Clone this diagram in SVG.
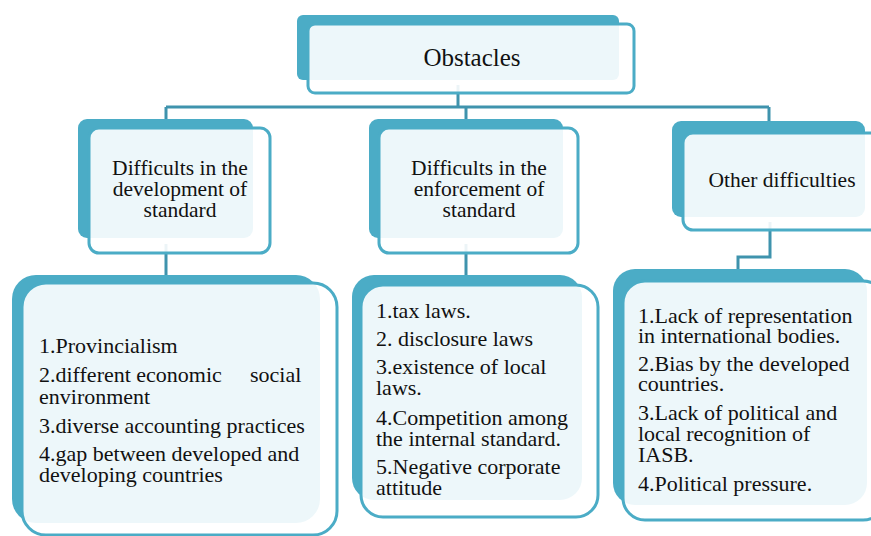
<svg xmlns="http://www.w3.org/2000/svg" width="871" height="536" viewBox="0 0 871 536">
<style>
.back{fill:#4BACC6}
.front{fill:#ffffff;fill-opacity:0.9;stroke:#4BACC6;stroke-width:3}
.con{fill:none;stroke:#3F93AD;stroke-width:3}
</style>
<rect width="871" height="536" fill="#ffffff"/>
<g id="connectors">
<path class="con" d="M458 85V107"/>
<path class="con" d="M166 107H769"/>
<path class="con" d="M166 107V122M466 107V122M769 107V124"/>
<path class="con" d="M166 244V278M466 244V280"/>
<path class="con" d="M770 222V257H738V272"/>
</g>
<g id="obstacles">
<rect class="back" x="297" y="15" width="322" height="65" rx="6"/>
<rect class="front" x="308" y="24" width="326" height="69" rx="7"/>
<text style="font-family:'Liberation Serif',serif;font-size:25px;fill:#111;text-anchor:middle" x="472" y="66">Obstacles</text>
</g>
<g id="development">
<rect class="back" x="78" y="119" width="175" height="119" rx="9"/>
<rect class="front" x="89" y="128" width="181" height="125" rx="10"/>
<text style="font-family:'Liberation Serif',serif;font-size:21.5px;fill:#111;text-anchor:middle"><tspan x="180" y="175">Difficults in the</tspan><tspan x="180" y="196">development of</tspan><tspan x="180" y="217">standard</tspan></text>
</g>
<g id="enforcement">
<rect class="back" x="369" y="119" width="194" height="119" rx="9"/>
<rect class="front" x="379" y="128" width="199" height="125" rx="10"/>
<text style="font-family:'Liberation Serif',serif;font-size:21.5px;fill:#111;text-anchor:middle"><tspan x="479" y="175">Difficults in the</tspan><tspan x="479" y="196">enforcement of</tspan><tspan x="479" y="217">standard</tspan></text>
</g>
<g id="other">
<rect class="back" x="672" y="121" width="193" height="96" rx="9"/>
<rect class="front" x="683" y="133" width="200" height="97" rx="10"/>
<text style="font-family:'Liberation Serif',serif;font-size:21.5px;fill:#111;text-anchor:middle" x="782" y="187">Other difficulties</text>
</g>
<g id="list-development">
<rect class="back" x="12" y="275" width="308" height="248" rx="24"/>
<rect class="front" x="22" y="283" width="315" height="252" rx="24"/>
<text style="font-family:'Liberation Serif',serif;font-size:22px;fill:#111"><tspan x="39" y="353">1.Provincialism</tspan><tspan x="39" y="382">2.different economic</tspan><tspan x="250" y="382">social</tspan><tspan x="39" y="404">environment</tspan><tspan x="39" y="433">3.diverse accounting practices</tspan><tspan x="39" y="461">4.gap between developed and</tspan><tspan x="39" y="482">developing countries</tspan></text>
</g>
<g id="list-enforcement">
<rect class="back" x="352" y="275" width="230" height="225" rx="22"/>
<rect class="front" x="361" y="285" width="237" height="232" rx="22"/>
<text style="font-family:'Liberation Serif',serif;font-size:22px;fill:#111"><tspan x="376" y="318">1.tax laws.</tspan><tspan x="376" y="346">2. disclosure laws</tspan><tspan x="376" y="374">3.existence of local</tspan><tspan x="376" y="395">laws.</tspan><tspan x="376" y="425">4.Competition among</tspan><tspan x="376" y="446">the internal standard.</tspan><tspan x="376" y="474">5.Negative corporate</tspan><tspan x="376" y="495">attitude</tspan></text>
</g>
<g id="list-other">
<rect class="back" x="613" y="269" width="254" height="236" rx="22"/>
<rect class="front" x="623" y="281" width="262" height="239" rx="22"/>
<text style="font-family:'Liberation Serif',serif;font-size:22px;fill:#111"><tspan x="638" y="323">1.Lack of representation</tspan><tspan x="638" y="343">in international bodies.</tspan><tspan x="638" y="371">2.Bias by the developed</tspan><tspan x="638" y="391">countries.</tspan><tspan x="638" y="420">3.Lack of political and</tspan><tspan x="638" y="441">local recognition of</tspan><tspan x="638" y="462">IASB.</tspan><tspan x="638" y="491">4.Political pressure.</tspan></text>
</g>
</svg>
